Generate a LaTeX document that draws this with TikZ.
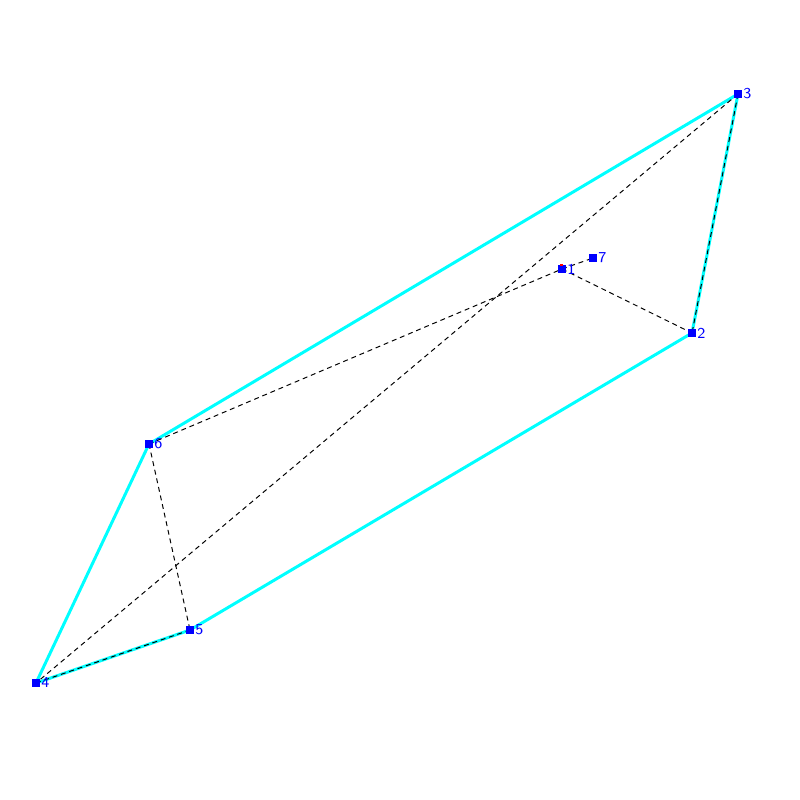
\documentclass[tikz,border=0pt]{standalone}
\usepackage{tikz}
\usetikzlibrary{positioning}
\usetikzlibrary{backgrounds}

\definecolor{rimcyan}{RGB}{0,255,255}
\definecolor{ptblue}{RGB}{0,0,255}

\tikzset{
  vert/.style={fill=ptblue, draw=none, minimum size=0.8mm, inner sep=0pt,
    label={[text=ptblue, font=\fontsize{4.3}{5}\sffamily, inner sep=0.3pt, xshift=-0.1mm]right:#1}},
  rim/.style={rimcyan, line width=0.85pt},
  hid/.style={black, line width=0.28pt, dash pattern=on 1.4pt off 1.1pt}
}

\begin{document}
\begin{tikzpicture}[x=0.01cm, y=-0.01cm]
  \useasboundingbox (0,0) rectangle (800,800);

  %---------------- points ----------------
  \node[vert=3] (p3) at (738,94) {};
  \node[vert=7] (p7) at (593,258) {};
  \node[vert=1] (p1) at (562,269) {};
  \node[vert=2] (p2) at (692,333) {};
  \node[vert=6] (p6) at (149,444) {};
  \node[vert=5] (p5) at (190,630) {};
  \node[vert=4] (p4) at (36,683) {};

  \begin{scope}[on background layer]
  %---------------- outline ----------------
  \draw[rim] (p3.center) -- (p6.center);
  \draw[rim] (p6.center) -- (p4.center);
  \draw[rim] (p4.center) -- (p5.center);
  \draw[rim] (p5.center) -- (p2.center);
  \draw[rim] (p2.center) -- (p3.center);

  %---------------- hidden ----------------
  \draw[hid] (p3.center) -- (p4.center);
  \draw[hid] (p3.center) -- (p2.center);
  \draw[hid] (p4.center) -- (p5.center);
  \draw[hid] (p6.center) -- (p5.center);
  \draw[hid] (p6.center) -- (p1.center);
  \draw[hid] (p1.center) -- (p2.center);
  \draw[hid] (p1.center) -- (p7.center);
  \end{scope}

  \fill[red] (560,264) rectangle (563,266);
\end{tikzpicture}
\end{document}
